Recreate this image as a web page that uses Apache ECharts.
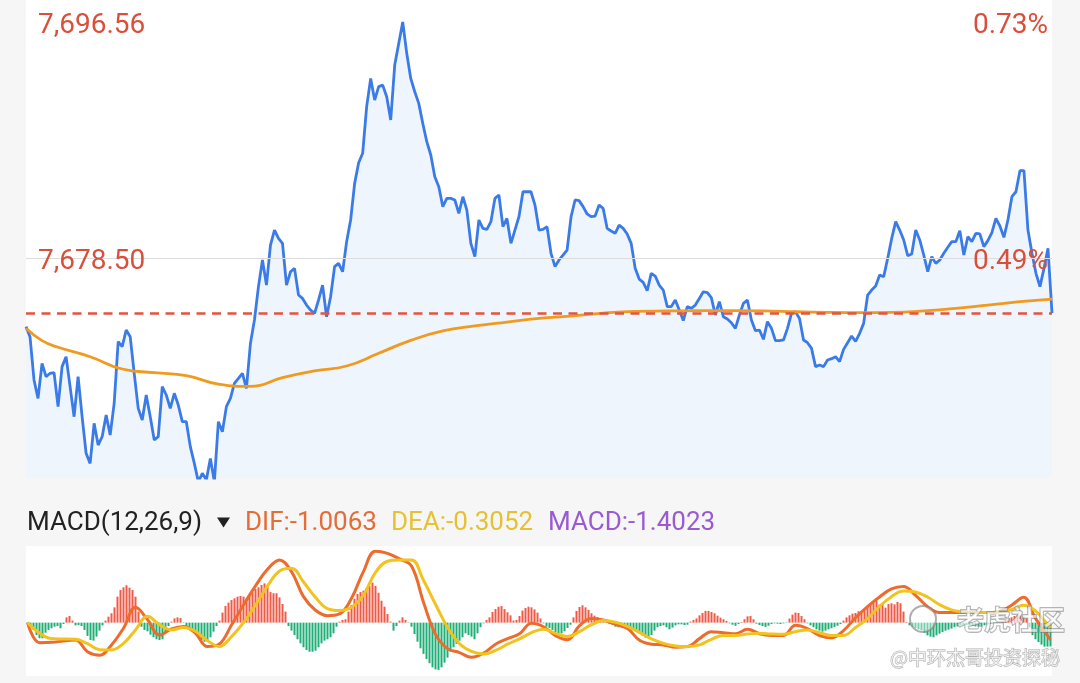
<!DOCTYPE html>
<html><head><meta charset="utf-8">
<script src="https://cdn.jsdelivr.net/npm/echarts@6/dist/echarts.min.js"></script>
<style>html,body{margin:0;padding:0;background:#f6f6f6;}#c{width:1080px;height:683px;}</style>
</head><body><div id="c"></div>
<script>
// ---- price panel ----
const prices = [
7673.25,7672.48,7669.17,7667.76,7670.44,7669.42,7669.68,7669.73,7667.13,7670.19,
7670.95,7668.66,7666.36,7669.42,7666.36,7663.56,7662.79,7665.85,7664.19,7664.83,
7666.49,7664.96,7667.38,7672.10,7671.72,7672.99,7672.48,7669.68,7667.00,7666.11,
7668.02,7666.36,7664.58,7664.83,7668.66,7668.02,7667.00,7668.15,7667.25,7665.98,
7665.98,7664.07,7662.79,7661.39,7662.03,7661.52,7663.17,7661.39,7665.98,7665.21,
7667.13,7667.76,7668.91,7669.29,7669.68,7668.53,7671.97,7673.76,7676.31,7678.35,
7676.43,7679.49,7680.64,7680.00,7679.62,7676.43,7677.45,7677.71,7675.67,7675.41,
7674.90,7674.52,7674.27,7675.29,7676.43,7674.01,7675.54,7677.84,7678.09,7677.45,
7679.75,7681.41,7684.21,7685.79,7686.51,7690.08,7692.24,7690.59,7691.61,7691.73,
7690.84,7689.06,7693.26,7694.92,7696.56,7694.16,7692.24,7691.22,7690.33,7688.80,
7687.40,7686.38,7684.72,7683.96,7682.43,7683.06,7683.06,7682.94,7681.92,7683.19,
7682.17,7679.62,7678.60,7681.41,7680.77,7680.69,7681.28,7683.06,7683.32,7680.90,
7681.53,7679.62,7680.64,7681.66,7683.57,7683.57,7683.57,7682.55,7680.64,7680.69,
7680.90,7678.86,7677.84,7678.35,7678.73,7679.11,7681.66,7682.94,7682.89,7682.43,
7681.87,7681.66,7681.71,7682.55,7682.30,7680.77,7680.57,7680.39,7681.02,7680.77,
7680.34,7679.62,7677.71,7676.89,7676.64,7676.00,7677.33,7677.12,7676.43,7676.05,
7674.78,7674.78,7675.29,7674.52,7673.71,7674.78,7674.65,7674.90,7675.41,7675.92,
7675.85,7675.47,7674.14,7675.16,7674.01,7673.83,7673.55,7673.12,7674.14,7675.03,
7675.29,7673.76,7672.94,7672.99,7672.28,7673.63,7673.12,7672.18,7672.18,7672.23,
7673.12,7674.27,7674.39,7673.88,7672.23,7672.02,7671.59,7670.19,7670.31,7670.19,
7670.70,7670.80,7670.95,7670.57,7671.51,7672.02,7672.53,7672.12,7672.74,7673.50,
7675.67,7676.05,7676.36,7677.20,7677.07,7678.47,7680.00,7681.28,7680.64,7679.88,
7678.68,7678.81,7680.64,7679.88,7678.73,7677.45,7678.60,7678.09,7678.35,7678.86,
7679.32,7679.75,7679.75,7680.59,7678.73,7680.13,7679.75,7680.39,7680.34,7679.37,
7679.83,7680.44,7681.53,7680.95,7680.08,7681.41,7683.19,7683.57,7685.18,7685.18,
7680.64,7678.86,7677.33,7676.31,7677.71,7679.24,7674.29
];
const avgIndex = [0,4,8,16,24,32,40,48,56,64,72,80,88,96,104,112,120,128,136,144,152,160,168,176,184,192,200,208,216,224,232,240,248,256];
const avgValues = [7673.12,7672.18,7671.67,7670.95,7670.01,7669.73,7669.50,7668.86,7668.68,7669.35,
7669.86,7670.24,7671.21,7672.20,7672.92,7673.30,7673.60,7673.88,7674.06,7674.29,
7674.42,7674.45,7674.47,7674.47,7674.45,7674.39,7674.34,7674.32,7674.34,7674.45,
7674.65,7674.90,7675.16,7675.36];
const lastPrice = 7674.29;
const refPrice = 7678.50;
const priceTicks = [7696.56, 7678.50];
const pctTickLabels = ['0.73%', '0.49%'];
const priceMin = 7661.67, priceMax = 7698.24;

// ---- MACD panel ----
const histValues = [
-0.04,-0.16,-0.43,-0.73,-0.92,-0.92,-0.59,-0.43,-0.33,-0.24,-0.20,-0.33,-0.08,0.31,0.39,0.12,-0.16,-0.14,-0.20,-0.43,
-0.78,-1.02,-1.06,-0.82,-0.47,-0.16,0.12,0.35,0.55,0.90,1.53,1.92,2.08,2.20,2.06,1.92,1.53,0.65,-0.24,-0.43,
-0.51,-0.71,-0.86,-0.98,-1.02,-0.98,-0.53,-0.20,0.06,0.25,0.31,0.27,-0.02,-0.20,-0.35,-0.47,-0.63,-0.82,-1.02,-1.12,
-1.06,-0.86,-0.53,-0.20,0.12,0.59,0.98,1.18,1.33,1.43,1.53,1.57,1.53,1.43,1.61,1.80,1.98,2.08,2.22,2.31,
2.16,1.80,1.73,1.73,1.49,1.10,0.65,-0.20,-0.47,-0.73,-0.98,-1.22,-1.45,-1.61,-1.71,-1.71,-1.65,-1.45,-1.22,-1.06,
-0.98,-0.86,-0.63,-0.24,0.06,0.16,0.20,0.65,1.04,1.41,1.69,1.80,1.88,2.02,2.16,2.35,2.16,1.76,1.29,0.94,
0.51,0.06,-0.47,-0.20,0.12,0.31,0.16,-0.02,-0.24,-0.67,-1.12,-1.51,-1.84,-2.14,-2.39,-2.63,-2.75,-2.78,-2.63,-2.35,
-2.06,-1.71,-1.45,-1.25,-1.06,-0.86,-0.63,-0.73,-0.82,-0.98,-0.63,-0.27,-0.04,0.16,0.31,0.63,0.80,0.94,0.98,0.80,
0.61,0.43,0.12,0.16,0.39,0.71,0.86,0.94,0.90,0.78,0.59,0.25,-0.04,-0.24,-0.31,-0.43,-0.55,-0.67,-0.63,-0.51,
-0.31,-0.12,0.31,0.69,0.92,1.02,0.90,0.75,0.55,0.41,0.33,0.25,0.16,0.06,-0.08,-0.14,-0.24,-0.27,-0.24,-0.24,
-0.29,-0.35,-0.43,-0.53,-0.63,-0.76,-0.88,-0.90,-0.73,-0.47,-0.27,-0.20,-0.16,-0.27,-0.39,-0.29,-0.16,-0.10,-0.10,-0.14,
-0.12,0.06,0.16,0.25,0.43,0.57,0.69,0.69,0.63,0.55,0.41,0.29,0.20,0.10,-0.04,-0.12,-0.18,-0.08,0.04,0.20,
0.37,0.39,0.20,-0.06,-0.14,-0.20,-0.25,-0.18,-0.08,-0.04,-0.06,-0.08,-0.04,-0.02,0.24,0.47,0.59,0.57,0.39,0.20,
-0.04,-0.16,-0.27,-0.39,-0.47,-0.53,-0.47,-0.39,-0.33,-0.25,-0.18,-0.08,0.12,0.31,0.43,0.53,0.57,0.67,0.69,0.75,
0.94,1.04,1.18,1.29,1.06,1.14,0.88,1.10,1.14,1.08,1.22,1.14,0.65,0.04,-0.16,-0.24,-0.31,-0.39,-0.45,-0.59,
-0.75,-0.82,-0.86,-0.75,-0.65,-0.55,-0.47,-0.41,-0.35,-0.27,-0.22,-0.16,-0.14,-0.14,-0.18,-0.20,-0.22,-0.24,-0.22,-0.16,
-0.12,-0.08,-0.06,-0.04,-0.02,0.06,0.16,0.24,0.31,0.39,0.43,0.43,0.35,0.24,-0.27,-0.73,-0.98,-1.14,-1.29,-1.41,
-1.41,-1.40
];
const lineIndex = [0,4,8,12,16,20,24,28,32,36,40,44,48,52,56,60,64,68,72,76,80,84,88,92,96,100,104,108,112,116,
120,124,128,132,136,140,144,148,152,156,160,164,168,172,176,180,184,188,192,196,200,204,208,212,216,220,224,228,232,236,
240,244,248,252,256,260,264,268,272,276,280,284,288,292,296,300,304,308,312,316,320,324,328,332,336,340,341];
const difValues = [0.00,-1.18,-1.16,-1.08,-1.02,-1.71,-1.92,-1.31,-0.33,0.90,
0.18,-0.73,-0.37,-0.22,-0.63,-1.41,-1.25,-0.14,1.04,2.16,
3.14,3.69,3.00,1.53,0.73,0.41,0.51,1.43,3.02,4.20,
4.08,3.75,3.33,1.20,-0.69,-1.53,-1.76,-2.04,-1.80,-1.27,
-0.94,-0.65,-0.04,-0.24,-0.76,-1.00,-0.18,0.25,0.16,-0.10,
-0.35,-1.04,-1.27,-1.31,-1.45,-1.41,-0.94,-0.53,-0.59,-0.65,
-0.39,-0.65,-0.75,-0.75,-0.16,-0.35,-0.76,-0.90,-0.47,0.29,
0.94,1.51,1.98,2.12,1.61,0.94,0.59,0.59,0.59,0.59,
0.59,0.65,1.02,1.49,0.25,-0.76,-1.01];
const deaValues = [0.00,-0.61,-0.94,-0.96,-0.98,-1.24,-1.59,-1.61,-1.22,-0.43,
0.37,-0.12,-0.43,-0.29,-0.51,-1.06,-1.41,-0.82,0.00,1.04,
2.16,3.04,3.20,2.39,1.49,0.82,0.71,0.90,1.63,2.96,
3.61,3.69,3.69,2.49,1.08,-0.27,-1.24,-1.69,-1.84,-1.63,
-1.27,-0.96,-0.59,-0.39,-0.63,-0.82,-0.53,-0.12,0.12,0.02,
-0.22,-0.57,-0.96,-1.22,-1.37,-1.41,-1.31,-0.98,-0.75,-0.75,
-0.67,-0.63,-0.67,-0.69,-0.53,-0.43,-0.59,-0.76,-0.75,-0.29,
0.24,0.96,1.53,1.86,1.80,1.51,1.06,0.75,0.63,0.59,
0.59,0.65,0.76,1.02,0.69,-0.10,-0.31];
const macdName = 'MACD(12,26,9)';
const difLast = -1.0063, deaLast = -0.3052, macdLast = -1.4023;
const macdMin = -3.14, macdMax = 4.51;

const FONT = 'Roboto';
const LABEL_NUDGE = 0.31; // visual offset of the tick labels below their reference line
const labelPos = priceTicks.map(v => v - LABEL_NUDGE);
const closestIdx = v => { let b = 0; labelPos.forEach((t, i) => { if (Math.abs(t - v) < Math.abs(labelPos[b] - v)) b = i; }); return b; };
const fmtPrice = v => priceTicks[closestIdx(v)].toLocaleString('en-US', {minimumFractionDigits: 2, maximumFractionDigits: 2});

const chart = echarts.init(document.getElementById('c'));
chart.setOption({
  animation: false,
  backgroundColor: '#f6f6f6',
  grid: [
    {left: 26, top: 0, width: 1026, height: 478, show: true, backgroundColor: '#ffffff', borderWidth: 0},
    {left: 26, top: 546, width: 1026, height: 130, show: true, backgroundColor: '#ffffff', borderWidth: 0}
  ],
  xAxis: [
    {type: 'value', gridIndex: 0, min: 0, max: prices.length - 1, show: false},
    {type: 'value', gridIndex: 1, min: -0.5, max: histValues.length - 0.5, show: false}
  ],
  yAxis: [
    {type: 'value', gridIndex: 0, min: priceMin, max: priceMax, position: 'left', z: 10,
     axisLine: {show: false}, axisTick: {show: false}, splitLine: {show: false},
     axisLabel: {inside: true, margin: 12, customValues: labelPos, formatter: fmtPrice,
                 color: '#da4f3b', fontSize: 28, fontFamily: FONT}},
    {type: 'value', gridIndex: 0, min: priceMin, max: priceMax, position: 'right', z: 10,
     axisLine: {show: false}, axisTick: {show: false}, splitLine: {show: false},
     axisLabel: {inside: true, margin: 4, customValues: labelPos, formatter: v => pctTickLabels[closestIdx(v)],
                 color: '#da4f3b', fontSize: 28, fontFamily: FONT}},
    {type: 'value', gridIndex: 1, min: macdMin, max: macdMax, show: false}
  ],
  series: [
    {type: 'line', xAxisIndex: 0, yAxisIndex: 0, data: prices.map((v, i) => [i, v]),
     symbol: 'none', lineStyle: {color: '#3b7be8', width: 2.8}, itemStyle: {color: '#3b7be8'},
     areaStyle: {color: '#eff5fd', opacity: 1, origin: 'start'}, z: 2,
     markLine: {silent: true, symbol: ['none', 'none'], label: {show: false}, animation: false,
       data: [
         {yAxis: refPrice, lineStyle: {color: '#dcdcdc', width: 1, type: 'solid'}},
         {yAxis: lastPrice, lineStyle: {color: '#e2543f', width: 2.5, type: [9, 6.5]}}
       ]}},
    {type: 'line', xAxisIndex: 0, yAxisIndex: 0, data: avgIndex.map((x, i) => [x, avgValues[i]]),
     symbol: 'none', smooth: true, lineStyle: {color: '#f09a20', width: 2.8}, z: 3},
    {type: 'bar', xAxisIndex: 1, yAxisIndex: 2, data: histValues.map((v, k) => [k, v]), barWidth: 2,
     itemStyle: {color: p => p.value[1] >= 0 ? '#ee5b46' : '#1fae76'}},
    {type: 'line', xAxisIndex: 1, yAxisIndex: 2, data: lineIndex.map((x, i) => [x, difValues[i]]),
     symbol: 'none', smooth: 0.4, lineStyle: {color: '#ec6b2d', width: 3}, z: 3},
    {type: 'line', xAxisIndex: 1, yAxisIndex: 2, data: lineIndex.map((x, i) => [x, deaValues[i]]),
     symbol: 'none', smooth: 0.4, lineStyle: {color: '#f1c31c', width: 3}, z: 4}
  ],
  graphic: {elements: [
    {type: 'text', x: 27, y: 523, style: {text: macdName, fill: '#222222', fontSize: 26, fontFamily: FONT, verticalAlign: 'middle'}},
    {type: 'polygon', shape: {points: [[217, 517.5], [230, 517.5], [223.5, 527.5]]}, style: {fill: '#222222'}},
    {type: 'text', x: 245, y: 523, style: {text: 'DIF:' + difLast.toFixed(4), fill: '#e56c36', fontSize: 26, fontFamily: FONT, verticalAlign: 'middle'}},
    {type: 'text', x: 391, y: 523, style: {text: 'DEA:' + deaLast.toFixed(4), fill: '#e6c132', fontSize: 26, fontFamily: FONT, verticalAlign: 'middle'}},
    {type: 'text', x: 548, y: 523, style: {text: 'MACD:' + macdLast.toFixed(4), fill: '#9a5bd1', fontSize: 26, fontFamily: FONT, verticalAlign: 'middle'}},
    {type: 'circle', shape: {cx: 923, cy: 619, r: 13}, style: {fill: 'rgba(255,255,255,0.4)', stroke: 'rgba(130,130,130,0.65)', lineWidth: 2}, z: 100},
    {type: 'text', x: 957, y: 620, z: 100, style: {text: '老虎社区', fill: 'rgba(255,255,255,0.6)', stroke: 'rgba(120,120,120,0.7)', lineWidth: 1.3, fontSize: 27, fontWeight: 'bold', fontFamily: 'Noto Sans CJK SC', verticalAlign: 'middle'}},
    {type: 'text', x: 890, y: 658, z: 100, style: {text: '@中环杰哥投资探秘', fill: 'rgba(255,255,255,0.65)', stroke: 'rgba(130,130,130,0.65)', lineWidth: 1, fontSize: 19, fontFamily: 'Noto Sans CJK SC', verticalAlign: 'middle'}}
  ]}
});
</script>
</body></html>
